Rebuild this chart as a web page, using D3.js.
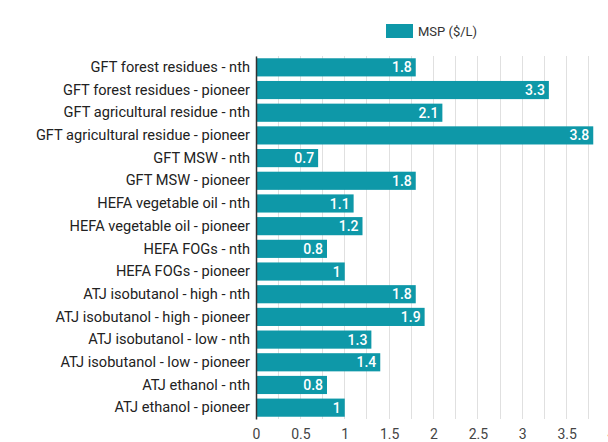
<!DOCTYPE html>
<html><head><meta charset="utf-8">
<script src="https://cdn.jsdelivr.net/npm/d3@7"></script>
<style>body{margin:0;background:#fff;}svg{display:block;font-family:Roboto,sans-serif;}</style>
</head><body><svg id="c" width="608" height="442"></svg>
<script>
const categories = ["GFT forest residues - nth","GFT forest residues - pioneer","GFT agricultural residue - nth","GFT agricultural residue - pioneer","GFT MSW - nth","GFT MSW - pioneer","HEFA vegetable oil - nth","HEFA vegetable oil - pioneer","HEFA FOGs - nth","HEFA FOGs - pioneer","ATJ isobutanol - high - nth","ATJ isobutanol - high - pioneer","ATJ isobutanol - low - nth","ATJ isobutanol - low - pioneer","ATJ ethanol - nth","ATJ ethanol - pioneer"];
const msp = [1.8,3.3,2.1,3.8,0.7,1.8,1.1,1.2,0.8,1,1.8,1.9,1.3,1.4,0.8,1];
const tickValues = [0,0.5,1,1.5,2,2.5,3,3.5,4];
const seriesName = "MSP ($/L)";
const color = "#0e98a8";

const svg = d3.select("#c");
const x = d3.scaleLinear().domain([0,4]).range([256,611]);
const y = d3.scaleBand().domain(categories).range([56,419]).paddingInner(0.2).paddingOuter(0.1);

const grid = d3.range(0,4.01,0.25);
svg.append("g").selectAll("line").data(grid).join("line")
  .attr("x1",d=>x(d)).attr("x2",d=>x(d)).attr("y1",56).attr("y2",419)
  .attr("stroke","#e0e0e0").attr("stroke-width",1).attr("shape-rendering","crispEdges");

svg.append("g").selectAll("rect").data(msp).join("rect")
  .attr("x",x(0)).attr("y",(d,i)=>y(categories[i]))
  .attr("width",d=>x(d)-x(0)).attr("height",y.bandwidth()).attr("fill",color);

svg.append("g").selectAll("text").data(msp).join("text")
  .attr("x",d=>x(d)-4).attr("y",(d,i)=>y(categories[i])+y.bandwidth()/2)
  .attr("dy","0.36em").attr("text-anchor","end").attr("fill","#fff")
  .attr("font-size",14).attr("font-weight",500).text(d=>d);

const ya = svg.append("g").attr("transform",`translate(${x(0)},0)`)
  .call(d3.axisLeft(y).tickSize(0).tickPadding(6));
ya.select(".domain").attr("stroke","#333").attr("stroke-width",1.5);
ya.selectAll("text").attr("font-size",14.6).attr("fill","#222").attr("font-family","Roboto,sans-serif");

const xa = svg.append("g").attr("transform",`translate(0,419)`)
  .call(d3.axisBottom(x).tickValues(tickValues).tickSize(0).tickPadding(10).tickFormat(d3.format("")));
xa.select(".domain").remove();
xa.selectAll("text").attr("font-size",14).attr("fill","#444").attr("font-family","Roboto,sans-serif");

const lg = svg.append("g");
lg.append("rect").attr("x",386).attr("y",24).attr("width",27).attr("height",14).attr("fill",color);
lg.append("text").attr("x",418).attr("y",31).attr("dy","0.36em").attr("font-size",13).attr("fill","#333").text(seriesName);
</script></body></html>
